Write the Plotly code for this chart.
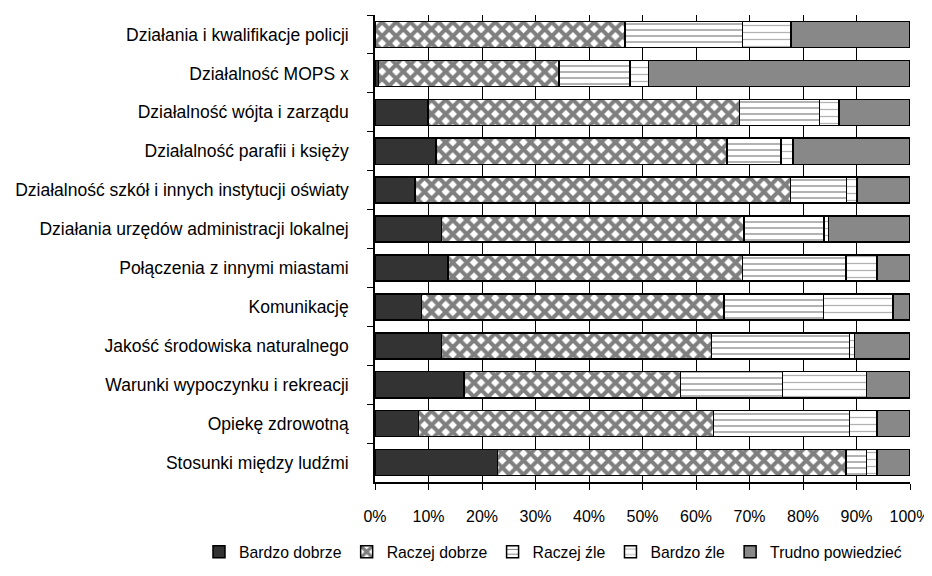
import plotly.graph_objects as go

categories = [
    "Działania i kwalifikacje policji",
    "Działalność MOPS x",
    "Działalność wójta i zarządu",
    "Działalność parafii i księży",
    "Działalność szkół i innych instytucji oświaty",
    "Działania urzędów administracji lokalnej",
    "Połączenia z innymi miastami",
    "Komunikację",
    "Jakość środowiska naturalnego",
    "Warunki wypoczynku i rekreacji",
    "Opiekę zdrowotną",
    "Stosunki między ludźmi",
]

bardzo_dobrze = [0.0, 0.7, 9.9, 11.4, 7.5, 12.4, 13.6, 8.7, 12.4, 16.6, 8.1, 22.9]
raczej_dobrze = [46.7, 33.7, 58.2, 54.4, 70.2, 56.6, 55.1, 56.5, 50.5, 40.5, 55.2, 65.1]
raczej_zle = [22.0, 13.3, 15.0, 10.1, 10.4, 14.9, 19.3, 18.6, 25.8, 19.1, 25.4, 3.9]
bardzo_zle = [9.1, 3.4, 3.6, 2.2, 2.0, 0.9, 5.8, 13.0, 0.9, 15.7, 5.1, 1.9]
trudno = [22.2, 48.9, 13.3, 21.9, 9.9, 15.2, 6.2, 3.2, 10.4, 8.1, 6.2, 6.2]

series_names = ["Bardzo dobrze", "Raczej dobrze", "Raczej źle", "Bardzo źle", "Trudno powiedzieć"]
series_values = [bardzo_dobrze, raczej_dobrze, raczej_zle, bardzo_zle, trudno]

tick_vals = list(range(0, 101, 10))
tick_text = [f"{v}%" for v in tick_vals]

styles = [
    dict(color="#333333"),
    dict(color="white", pattern=dict(shape="x", fgcolor="black", bgcolor="white", size=10, solidity=0.65, fillmode="overlay")),
    dict(color="white", pattern=dict(shape="-", fgcolor="black", bgcolor="white", size=6, solidity=0.2, fillmode="overlay")),
    dict(color="white", pattern=dict(shape="-", fgcolor="#666666", bgcolor="white", size=7, solidity=0.18, fillmode="overlay")),
    dict(color="#888888"),
]

fig = go.Figure()
for name, vals, st in zip(series_names, series_values, styles):
    marker = dict(color=st["color"], line=dict(color="black", width=1.5))
    if "pattern" in st:
        marker["pattern"] = st["pattern"]
    fig.add_trace(go.Bar(
        y=categories, x=vals, name=name, orientation="h", marker=marker,
    ))

font_family = "Liberation Sans, Arial, sans-serif"
fig.update_layout(
    barmode="stack",
    bargap=0.33,
    width=924, height=568,
    margin=dict(l=367, r=22, t=7, b=94, autoexpand=False),
    paper_bgcolor="white", plot_bgcolor="white",
    font=dict(family=font_family, size=16, color="black"),
    showlegend=True,
    legend=dict(orientation="h", x=-0.329, xanchor="left", y=-0.15, yanchor="middle",
                font=dict(size=15.75), traceorder="normal", itemwidth=30,
                bgcolor="rgba(0,0,0,0)"),
    xaxis=dict(range=[0, 100], tickvals=tick_vals, ticktext=tick_text,
               showgrid=True, gridcolor="black", gridwidth=1,
               showline=True, linecolor="black", linewidth=1.5,
               ticks="outside", ticklen=6, tickcolor="black",
               ticklabelstandoff=13, zeroline=False, automargin=False,
               tickfont=dict(size=16)),
    yaxis=dict(categoryorder="array", categoryarray=categories, autorange="reversed",
               showline=True, linecolor="black", linewidth=1.5,
               ticks="outside", ticklen=6, tickcolor="black", tickson="boundaries",
               ticklabelstandoff=21, showgrid=False, automargin=False,
               tickfont=dict(size=17.5)),
)

fig.write_html("out.html")
